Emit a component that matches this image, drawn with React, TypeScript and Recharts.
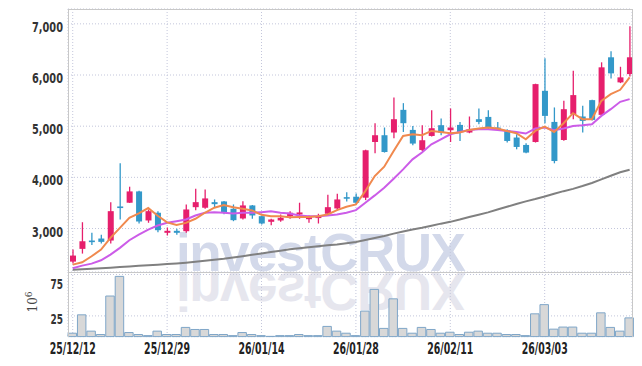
import React from 'react';
import { ComposedChart, Bar, Line, XAxis, YAxis, CartesianGrid } from 'recharts';

const dates = [
  '25/12/12', '25/12/15', '25/12/16', '25/12/17', '25/12/18', '25/12/19', '25/12/22', '25/12/23', '25/12/24', '25/12/26',
  '25/12/29', '25/12/30', '26/01/02', '26/01/05', '26/01/06', '26/01/07', '26/01/08', '26/01/09', '26/01/12', '26/01/13',
  '26/01/14', '26/01/15', '26/01/16', '26/01/19', '26/01/20', '26/01/21', '26/01/22', '26/01/23', '26/01/26', '26/01/27',
  '26/01/28', '26/01/29', '26/01/30', '26/02/02', '26/02/03', '26/02/04', '26/02/05', '26/02/06', '26/02/09', '26/02/10',
  '26/02/11', '26/02/12', '26/02/13', '26/02/19', '26/02/20', '26/02/23', '26/02/24', '26/02/25', '26/02/26', '26/02/27',
  '26/03/03', '26/03/04', '26/03/05', '26/03/06', '26/03/09', '26/03/10', '26/03/11', '26/03/12', '26/03/13', '26/03/16',
];

const opens = [
  2353, 2602, 2765, 2804, 2765, 3431, 3504, 3725, 3157, 3308,
  2916, 2955, 2947, 3417, 3406, 3515, 3529, 3386, 3196, 3451,
  3241, 3131, 3157, 3241, 3274, 3182, 3216, 3288, 3392, 3613,
  3621, 3602, 4691, 4823, 4876, 5319, 4927, 4535, 4809, 5019,
  4921, 5025, 4876, 5136, 5181, 4974, 4921, 4778, 4633, 4691,
  5691, 5083, 4730, 5234, 5189, 5509, 5221, 6346, 5856, 6018,
];
const highs = [
  2588, 3123, 2916, 2877, 3515, 4274, 3817, 3740, 3372, 3339,
  3020, 2994, 3470, 3778, 3764, 3568, 3540, 3470, 3535, 3460,
  3255, 3190, 3274, 3339, 3504, 3255, 3288, 3661, 3680, 3711,
  3686, 4540, 5058, 4974, 5562, 5450, 5005, 5019, 5313, 5150,
  5346, 5083, 5189, 5346, 5313, 5083, 4940, 4842, 4666, 5830,
  6326, 5366, 5495, 6083, 5398, 5515, 6248, 6463, 6161, 6953,
];
const lows = [
  2314, 2510, 2680, 2706, 2706, 3176, 3500, 3098, 3112, 2927,
  2863, 2877, 2916, 3359, 3386, 3406, 3280, 3143, 3176, 3190,
  3078, 3065, 3131, 3190, 3190, 3112, 3098, 3261, 3359, 3529,
  3470, 3555, 4470, 4484, 4764, 4887, 4627, 4515, 4797, 4823,
  4691, 4711, 4862, 5038, 4927, 4907, 4680, 4548, 4470, 4680,
  5058, 4274, 4715, 5136, 4876, 5110, 5201, 5934, 5842, 5973,
];
const closes = [
  2471, 2751, 2735, 2739, 3339, 3402, 3725, 3137, 3339, 2967,
  2955, 2916, 3372, 3515, 3588, 3476, 3308, 3163, 3451, 3255,
  3098, 3176, 3210, 3308, 3314, 3221, 3235, 3417, 3568, 3594,
  3504, 4529, 4823, 4495, 5136, 5058, 4660, 4725, 4960, 4876,
  4974, 4887, 4940, 5083, 4960, 4927, 4711, 4594, 4484, 5822,
  5201, 4319, 5332, 5607, 5103, 5123, 6150, 6032, 5954, 6346,
];

const ma5 = [
  2294, 2340, 2457, 2588, 2817, 3013, 3210, 3294, 3400, 3250,
  3120, 3070, 3110, 3190, 3308, 3406, 3457, 3417, 3386, 3353,
  3268, 3241, 3241, 3221, 3227, 3227, 3241, 3274, 3359, 3425,
  3470, 3731, 4025, 4209, 4515, 4809, 4842, 4823, 4907, 4887,
  4862, 4876, 4927, 4954, 4974, 4954, 4907, 4862, 4744, 4907,
  4993, 4887, 5058, 5254, 5136, 5136, 5495, 5626, 5711, 5954,
];
const ma20 = [
  2222, 2275, 2314, 2379, 2490, 2622, 2771, 2882, 2980, 3059,
  3112, 3143, 3176, 3255, 3308, 3320, 3308, 3294, 3308, 3308,
  3320, 3335, 3308, 3294, 3255, 3241, 3241, 3255, 3274, 3308,
  3359, 3504, 3647, 3798, 3974, 4156, 4352, 4484, 4646, 4744,
  4842, 4887, 4927, 4940, 4940, 4927, 4907, 4887, 4856, 4954,
  4974, 4921, 4954, 5005, 5019, 5038, 5201, 5332, 5476, 5528,
];
const ma120 = [
  2196, 2205, 2215, 2225, 2235, 2246, 2258, 2270, 2282, 2294,
  2306, 2318, 2332, 2350, 2370, 2390, 2410, 2435, 2460, 2487,
  2513, 2540, 2567, 2595, 2615, 2635, 2655, 2672, 2688, 2710,
  2735, 2775, 2815, 2855, 2900, 2940, 2980, 3015, 3055, 3095,
  3130, 3175, 3225, 3270, 3315, 3370, 3425, 3480, 3530, 3575,
  3625, 3680, 3730, 3775, 3830, 3890, 3960, 4030, 4100, 4150,
];

// volume, millions
const volumes = [
  4.1, 26.3, 6.6, 2.5, 49, 72.7, 4.9, 2.5, 1.2, 6.6,
  2.5, 2.5, 11.1, 8.6, 8.6, 2.5, 2.5, 1.2, 4.9, 2.5,
  1.2, 0.3, 1.2, 1.2, 2.5, 1.2, 1.2, 12.3, 6.6, 4.1,
  1.2, 30.8, 57, 9.9, 45.6, 9.9, 4.1, 11.1, 8.6, 4.1,
  5.3, 2.5, 5.3, 6.6, 4.1, 4.1, 2.5, 2.5, 1.2, 27.5,
  38.6, 9, 11.5, 11.5, 4.1, 4.1, 28.7, 11.1, 6.6, 22.6,
];

const xTicks = [0, 10, 20, 30, 40, 50];
const priceTicks = [3000, 4000, 5000, 6000, 7000];
const volTicks = [25, 50, 75];

const RED = '#e61f6c';
const BLUE = '#3398c9';
const GRID = '#c3c6db';
const FONT = '"DejaVu Sans Condensed", "DejaVu Sans", sans-serif';

const data = dates.map((d, i) => ({
  i,
  date: d,
  open: opens[i],
  high: highs[i],
  low: lows[i],
  close: closes[i],
  ma5: ma5[i],
  ma20: ma20[i],
  ma120: ma120[i],
  vol: volumes[i],
}));

const Candle = (props: any) => {
  const { x, y, width, height, payload } = props;
  if (!payload) return null;
  const { open, close, high, low } = payload;
  const color = close >= open ? RED : BLUE;
  const top0 = height < 0 ? y + height : y;
  const h = Math.abs(height);
  const span = high - low || 1;
  const toY = (v: number) => top0 + ((high - v) / span) * h;
  const bTop = toY(Math.max(open, close));
  const bBot = toY(Math.min(open, close));
  const cx = x + width / 2;
  return (
    <g>
      <line x1={cx} x2={cx} y1={top0} y2={top0 + h} stroke={color} strokeWidth={1.3} />
      <rect x={x} y={bTop} width={width} height={Math.max(bBot - bTop, 1.6)} fill={color} />
    </g>
  );
};

const PriceTick = (props: any) => {
  const { x, y, payload } = props;
  const label = payload.value.toLocaleString('en-US');
  return (
    <text x={x} y={y} dy={8} textAnchor="end" fontFamily={FONT} fontWeight="bold" fontSize={14.5}
      fill="#333" textLength={label.length > 2 ? 31 : 12.5} lengthAdjust="spacingAndGlyphs">
      {label}
    </text>
  );
};

const DateTick = (props: any) => {
  const { x, y, payload } = props;
  return (
    <text x={x} y={y} dy={9.4} textAnchor="middle" fontFamily={FONT} fontWeight="bold" fontSize={15}
      fill="#222" textLength={46} lengthAdjust="spacingAndGlyphs">
      {dates[payload.value]}
    </text>
  );
};

export default function App() {
  return (
    <div style={{ position: 'absolute', left: 0, top: 0, width: 642, height: 366, background: '#fff' }}>
      <svg width={642} height={366} style={{ position: 'absolute', left: 0, top: 0 }}>
        <text x={176} y={271} fontFamily="Liberation Sans, Arial, sans-serif" fontWeight="bold" fontSize={53}
          letterSpacing={-1.5} fill="#d3d9ea">investCRUX</text>
        <text x={176} y={271} transform="translate(0,544) scale(1,-1)" fontFamily="Liberation Sans, Arial, sans-serif"
          fontWeight="bold" fontSize={53} letterSpacing={-1.5} fill="#e6e6ee">investCRUX</text>
        <text transform="translate(37,302) rotate(-90)" textAnchor="middle" fontFamily="DejaVu Serif, serif"
          fontSize={12} fill="#444">10<tspan dy={-5} fontSize={9}>6</tspan></text>
      </svg>

      <div style={{ position: 'absolute', left: 0, top: 0 }}>
        <ComposedChart width={642} height={272} data={data} margin={{ top: 9, right: 10, left: 0, bottom: 0 }}>
          <CartesianGrid stroke={GRID} strokeDasharray="1 2" />
          <XAxis dataKey="i" type="number" domain={[-0.5, 59.25]} ticks={xTicks} hide />
          <YAxis domain={[2150, 7290]} ticks={priceTicks} width={68} axisLine={false} tickLine={false}
            tickSize={3} tickMargin={2} tick={<PriceTick />} />
          <Bar dataKey={(d: any) => [d.low, d.high]} barSize={6} shape={<Candle />} isAnimationActive={false} />
          <Line dataKey="ma120" type="linear" stroke="#808080" strokeWidth={2} dot={false} isAnimationActive={false} />
          <Line dataKey="ma20" type="linear" stroke="#cc5ce8" strokeWidth={2} dot={false} isAnimationActive={false} />
          <Line dataKey="ma5" type="linear" stroke="#f0894e" strokeWidth={2} dot={false} isAnimationActive={false} />
        </ComposedChart>
      </div>

      <div style={{ position: 'absolute', left: 0, top: 272 }}>
        <ComposedChart width={642} height={94} data={data} margin={{ top: 0, right: 10, left: 0, bottom: 0 }}>
          <CartesianGrid stroke={GRID} strokeDasharray="1 2" />
          <XAxis dataKey="i" type="number" domain={[-0.5, 59.25]} ticks={xTicks} height={29.4}
            axisLine={false} tickLine={false} tick={<DateTick />} />
          <YAxis domain={[0, 78]} ticks={volTicks} width={68} axisLine={false} tickLine={false}
            tickSize={3} tickMargin={2} tick={<PriceTick />} />
          <Bar dataKey="vol" barSize={9.44} fill="#d8d8d8" stroke="#7fa6c8" strokeWidth={1} isAnimationActive={false} />
        </ComposedChart>
      </div>

      <div style={{ position: 'absolute', left: 68, top: 9, width: 565, height: 264, boxSizing: 'border-box',
        border: '1px solid #c8c8c8', pointerEvents: 'none' }} />
      <div style={{ position: 'absolute', left: 68, top: 272, width: 565, height: 65, boxSizing: 'border-box',
        borderLeft: '1px solid #c8c8c8', borderRight: '1px solid #c8c8c8', pointerEvents: 'none' }} />
    </div>
  );
}
